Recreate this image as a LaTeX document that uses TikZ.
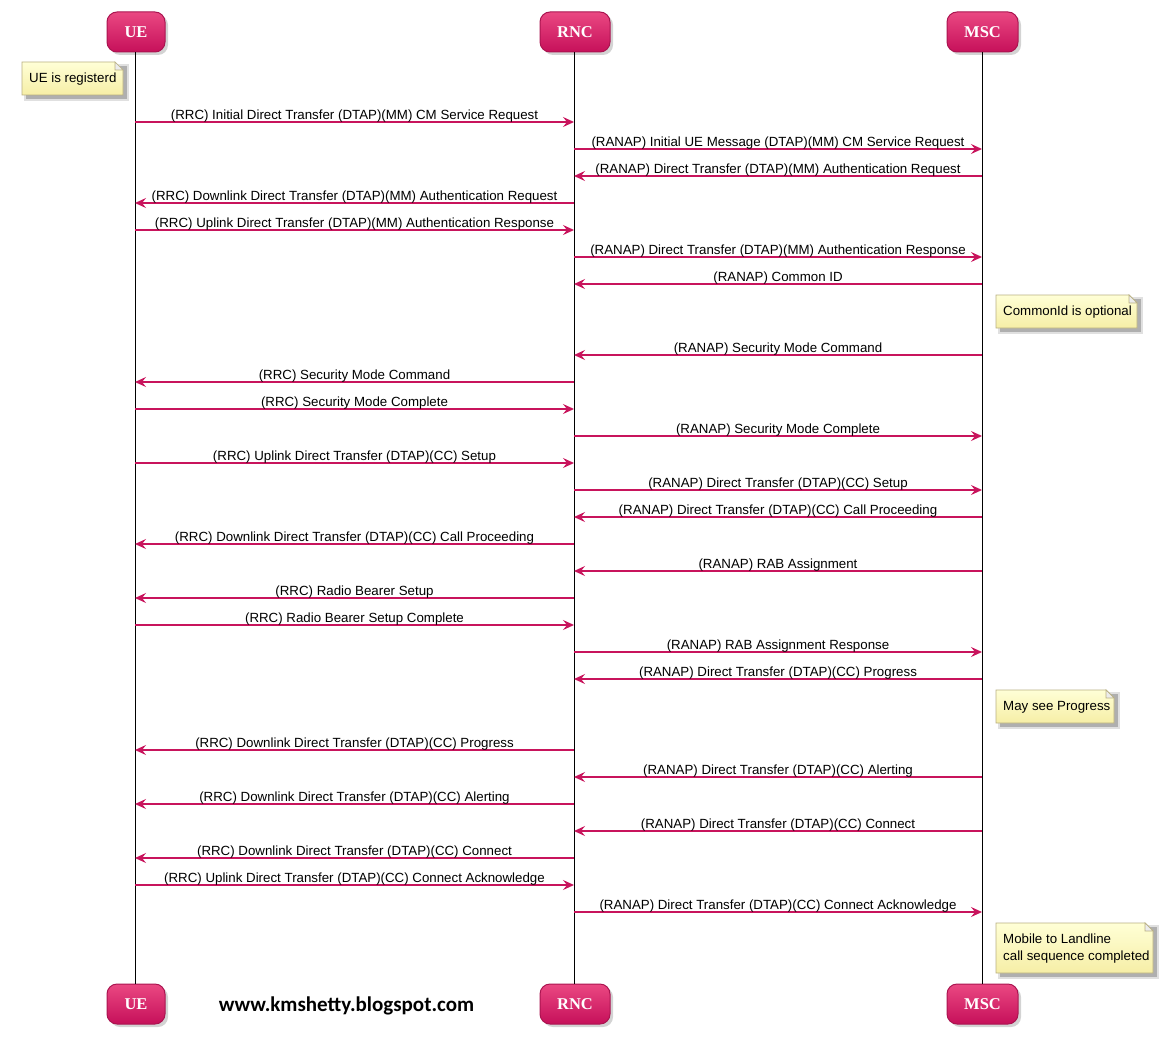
\documentclass[tikz,border=0pt]{standalone}
\usepackage{fontspec}
\setmainfont{Liberation Sans}
\newfontfamily\headfont{Liberation Serif}
\newfontfamily\wmfont{Carlito}
\usetikzlibrary{arrows.meta,shadows}
\definecolor{msgcol}{RGB}{200,20,92}
\definecolor{headtop}{RGB}{234,72,130}
\definecolor{headbot}{RGB}{198,16,90}
\definecolor{headborder}{RGB}{170,20,80}
\definecolor{notetop}{RGB}{255,255,214}
\definecolor{notebot}{RGB}{246,238,166}
\definecolor{noteborder}{RGB}{185,176,130}
\tikzset{
  actorbox/.style={rounded corners=10pt, draw=headborder, line width=1pt,
    top color=headtop, bottom color=headbot, text=white,
    font=\headfont\fontsize{16.5}{18}\selectfont\bfseries,
    minimum height=40pt, inner sep=0pt,
    drop shadow={shadow xshift=3pt, shadow yshift=-3pt, opacity=0.35}},
  lifeline/.style={draw=black, line width=0.9pt},
  msg/.style={draw=msgcol, line width=1.4pt, -{Stealth[length=11pt,width=10pt,inset=4pt]}},
  lbl/.style={midway, anchor=base, yshift=2.8pt, font=\fontsize{13.3}{15}\selectfont, text=black, inner sep=0pt},
  notetext/.style={anchor=north west, align=left, inner sep=0pt, font=\fontsize{13.3}{17}\selectfont},
  noteshape/.style={draw=noteborder, line width=0.7pt, top color=notetop, bottom color=notebot},
  noteshadow/.style={fill=black, opacity=0.22},
}
% note: name, x1, y1, x2, y2, text
\newcommand\mynote[6]{%
  \fill[noteshadow] (#2+4,#3+4) rectangle (#4+4,#5+4);
  \fill[noteshadow, opacity=0.12] (#2+2,#3+2) rectangle (#4+6,#5+6);
  \path[noteshape] (#2,#3) -- (#4-8,#3) -- (#4,#3+8) -- (#4,#5) -- (#2,#5) -- cycle;
  \draw[noteborder, line width=0.7pt, fill=white!85!gray] (#4-8,#3) -- (#4-8,#3+8) -- (#4,#3+8) -- cycle;
  \node[notetext] (#1) at (#2+7,#3+11) {#6};
}
\newcommand\msgarrow[4]{\draw[msg] (#1 |- 0,#3) -- node[lbl]{#4} (#2 |- 0,#3);}
\begin{document}
\begin{tikzpicture}[x=1pt,y=-1pt]
\useasboundingbox (0,0) rectangle (1172,1046);
% actors
\node[actorbox, minimum width=58pt] (ueT) at (136,32) {UE};
\node[actorbox, minimum width=70pt] (rncT) at (575,32) {RNC};
\node[actorbox, minimum width=71pt] (mscT) at (982.5,32) {MSC};
\node[actorbox, minimum width=58pt] (ueB) at (136,1004) {UE};
\node[actorbox, minimum width=70pt] (rncB) at (575,1004) {RNC};
\node[actorbox, minimum width=71pt] (mscB) at (982.5,1004) {MSC};
% lifelines
\draw[lifeline] (ueT.south -| 135,0) -- (ueB.north -| 135,0);
\draw[lifeline] (rncT.south -| 574,0) -- (rncB.north -| 574,0);
\draw[lifeline] (mscT.south -| 982,0) -- (mscB.north -| 982,0);
\coordinate (UE) at (135,0);
\coordinate (RNC) at (574,0);
\coordinate (MSC) at (982,0);
% notes
\mynote{n1}{22}{62}{123}{95}{UE is registerd}
% messages
\msgarrow{UE}{RNC}{122}{(RRC) Initial Direct Transfer (DTAP)(MM) CM Service Request}
\msgarrow{RNC}{MSC}{149}{(RANAP) Initial UE Message (DTAP)(MM) CM Service Request}
\msgarrow{MSC}{RNC}{176}{(RANAP) Direct Transfer (DTAP)(MM) Authentication Request}
\msgarrow{RNC}{UE}{203}{(RRC) Downlink Direct Transfer (DTAP)(MM) Authentication Request}
\msgarrow{UE}{RNC}{230}{(RRC) Uplink Direct Transfer (DTAP)(MM) Authentication Response}
\msgarrow{RNC}{MSC}{257}{(RANAP) Direct Transfer (DTAP)(MM) Authentication Response}
\msgarrow{MSC}{RNC}{284}{(RANAP) Common ID}
\mynote{n2}{996}{295}{1137}{328}{CommonId is optional}
\msgarrow{MSC}{RNC}{355}{(RANAP) Security Mode Command}
\msgarrow{RNC}{UE}{382}{(RRC) Security Mode Command}
\msgarrow{UE}{RNC}{409}{(RRC) Security Mode Complete}
\msgarrow{RNC}{MSC}{436}{(RANAP) Security Mode Complete}
\msgarrow{UE}{RNC}{463}{(RRC) Uplink Direct Transfer (DTAP)(CC) Setup}
\msgarrow{RNC}{MSC}{490}{(RANAP) Direct Transfer (DTAP)(CC) Setup}
\msgarrow{MSC}{RNC}{517}{(RANAP) Direct Transfer (DTAP)(CC) Call Proceeding}
\msgarrow{RNC}{UE}{544}{(RRC) Downlink Direct Transfer (DTAP)(CC) Call Proceeding}
\msgarrow{MSC}{RNC}{571}{(RANAP) RAB Assignment}
\msgarrow{RNC}{UE}{598}{(RRC) Radio Bearer Setup}
\msgarrow{UE}{RNC}{625}{(RRC) Radio Bearer Setup Complete}
\msgarrow{RNC}{MSC}{652}{(RANAP) RAB Assignment Response}
\msgarrow{MSC}{RNC}{679}{(RANAP) Direct Transfer (DTAP)(CC) Progress}
\mynote{n3}{996}{690}{1114}{723}{May see Progress}
\msgarrow{RNC}{UE}{750}{(RRC) Downlink Direct Transfer (DTAP)(CC) Progress}
\msgarrow{MSC}{RNC}{777}{(RANAP) Direct Transfer (DTAP)(CC) Alerting}
\msgarrow{RNC}{UE}{804}{(RRC) Downlink Direct Transfer (DTAP)(CC) Alerting}
\msgarrow{MSC}{RNC}{831}{(RANAP) Direct Transfer (DTAP)(CC) Connect}
\msgarrow{RNC}{UE}{858}{(RRC) Downlink Direct Transfer (DTAP)(CC) Connect}
\msgarrow{UE}{RNC}{885}{(RRC) Uplink Direct Transfer (DTAP)(CC) Connect Acknowledge}
\msgarrow{RNC}{MSC}{912}{(RANAP) Direct Transfer (DTAP)(CC) Connect Acknowledge}
\mynote{n4}{996}{923}{1153}{973}{Mobile to Landline\\call sequence completed}
% watermark
\node[font=\wmfont\fontsize{21}{23}\selectfont\bfseries, inner sep=0pt] (wm) at (346.5,1006) {www.kmshetty.blogspot.com};
\end{tikzpicture}
\end{document}
